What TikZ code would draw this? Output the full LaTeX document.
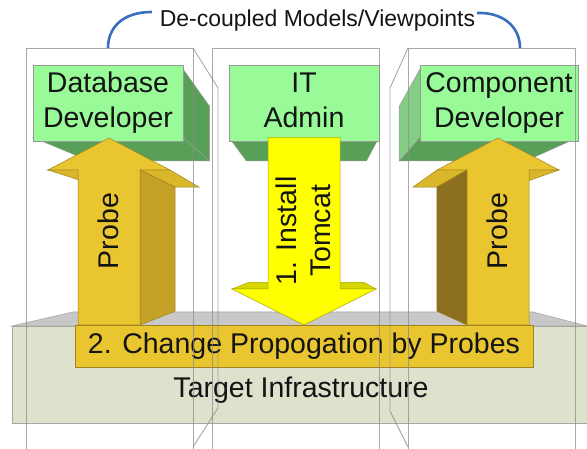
\documentclass[tikz,border=0pt]{standalone}
\usepackage{fontspec}
\setmainfont{Liberation Sans}
\definecolor{grnF}{RGB}{152,251,152}
\definecolor{grnD}{RGB}{88,160,88}
\definecolor{grnS}{RGB}{112,196,112}
\definecolor{gld}{RGB}{233,197,48}
\definecolor{gldU}{RGB}{218,182,42}
\definecolor{gldD}{RGB}{196,162,40}
\definecolor{gldR}{RGB}{140,112,32}
\definecolor{gldE}{RGB}{160,130,30}
\definecolor{ylw}{RGB}{255,255,0}
\definecolor{ylwD}{RGB}{214,214,0}
\definecolor{ylwE}{RGB}{170,170,0}
\definecolor{plat}{RGB}{221,226,205}
\definecolor{platT}{RGB}{200,200,200}
\definecolor{bluelk}{RGB}{58,110,190}
\definecolor{txtc}{RGB}{20,20,20}
\begin{document}
\begin{tikzpicture}[x=1pt,y=-1pt,
  every node/.style={outer sep=0pt, text=txtc},
  bigtxt/.style={font=\fontsize{28.5}{35}\selectfont, align=center},
  gfront/.style={fill=grnF, draw=black!40, line width=0.5pt, bigtxt},
  gdark/.style={fill=grnD, draw=black!40, line width=0.5pt},
  gside/.style={fill=grnS, draw=black!40, line width=0.5pt},
  goldfront/.style={fill=gld, draw=gldE, line width=0.5pt},
  goldunder/.style={fill=gldU, draw=gldE, line width=0.5pt},
  goldside/.style={fill=gldD, draw=gldE, line width=0.5pt},
  goldsideR/.style={fill=gldR, draw=gldE, line width=0.5pt},
  ylwfront/.style={fill=ylw, draw=ylwE, line width=0.5pt},
  ylwtop/.style={fill=ylwD, draw=ylwE, line width=0.5pt},
  platfront/.style={fill=plat, draw=black!35, line width=0.6pt},
  plattop/.style={fill=platT, draw=black!35, line width=0.6pt},
  barbox/.style={fill=gld, draw=gldE, line width=0.5pt, bigtxt},
  panel/.style={draw=black!45, line width=0.9pt, opacity=0.75},
  bluelink/.style={draw=bluelk, line width=2.6pt}
]
\useasboundingbox (0,0) rectangle (587,449);
\fill[white] (0,0) rectangle (587,449);

% platform
\draw[plattop] (12,326) -- (73,312) -- (533,312) -- (587,326) -- cycle;
\node[platfront, minimum width=575pt, minimum height=97pt] (plat) at (299.5,374.5) {};
\node[bigtxt] (platlabel) at (301,391) {\strut Target Infrastructure};

% green boxes
\draw[gdark] (183,69) -- (209.6,106.4) -- (209.6,161) -- (183,137.5) -- cycle;
\draw[gdark] (33,137.5) -- (183,137.5) -- (209.6,161) -- (89.6,161) -- cycle;
\node[gfront, minimum width=150pt, minimum height=68.5pt] (dbdev) at (108,103.25) {\strut Database\\\strut Developer};

\draw[gdark] (229,137.5) -- (379,137.5) -- (366.4,161) -- (246.4,161) -- cycle;
\node[gfront, minimum width=150pt, minimum height=68.5pt] (itadmin) at (304,103.25) {\strut IT\\\strut Admin};

\draw[gdark] (420,137.5) -- (578,137.5) -- (525.6,161) -- (399.2,161) -- cycle;
\draw[gside, fill opacity=0.85] (420,69) -- (399.2,106.4) -- (399.2,161) -- (420,137.5) -- cycle;
\node[gfront, minimum width=158pt, minimum height=68.5pt] (compdev) at (499,103.25) {\strut Component\\\strut Developer};

% left probe arrow
\draw[goldunder] (48,170) -- (78,170) -- (125.6,187.2) -- (101.6,187.2) -- cycle;
\draw[goldunder] (140,170) -- (170,170) -- (199.2,187.2) -- (175.2,187.2) -- cycle;
\draw[goldside] (140,170) -- (175.2,187.2) -- (175.2,311.2) -- (140,325) -- cycle;
\draw[goldfront] (109,138) -- (170,170) -- (140,170) -- (140,325) -- (78,325) -- (78,170) -- (48,170) -- cycle;
\node[bigtxt, rotate=90] (probeL) at (108,231) {Probe};

% right probe arrow
\draw[goldunder] (529,170) -- (559,170) -- (510.4,187.2) -- (486.4,187.2) -- cycle;
\draw[goldunder] (437,170) -- (467,170) -- (436.8,187.2) -- (412.8,187.2) -- cycle;
\draw[goldsideR] (467,170) -- (436.8,187.2) -- (436.8,311.2) -- (467,325) -- cycle;
\draw[goldfront] (498,138) -- (559,170) -- (529,170) -- (529,325) -- (467,325) -- (467,170) -- (437,170) -- cycle;
\node[bigtxt, rotate=90] (probeR) at (497,231) {Probe};

% middle install arrow
\draw[ylwtop] (232,289) -- (268,289) -- (277.6,282.4) -- (248.8,282.4) -- cycle;
\draw[ylwtop] (340,289) -- (376,289) -- (364,282.4) -- (335.2,282.4) -- cycle;
\draw[ylwfront] (268,137.5) -- (340,137.5) -- (340,289) -- (376,289) -- (304,325) -- (232,289) -- (268,289) -- cycle;
\node[bigtxt, rotate=90, font=\fontsize{28.5}{34}\selectfont] (install) at (307,231) {\strut 1. Install\\\strut Tomcat};

% change propagation bar
\node[barbox, minimum width=458pt, minimum height=41pt] (bar) at (304,346.5) {\strut 2. Change Propogation by Probes};

% transparent panels
\draw[panel] (26,449) -- (26,48) -- (193,48) -- (193,449);
\draw[panel] (193,48) -- (218,88) -- (218,408) -- (193,447);
\draw[panel] (212,449) -- (212,48) -- (379,48) -- (379,449);
\draw[panel] (408,449) -- (408,48) -- (575,48) -- (575,449);
\draw[panel] (408,48) -- (390,88) -- (390,411) -- (408,447);

% title and links
\node[anchor=base, font=\fontsize{23}{28}\selectfont] (title) at (317.5,27) {De-coupled Models/Viewpoints};
\coordinate (lpanel) at (108,48);
\coordinate (rpanel) at (520,48);
\coordinate (tl) at (152,12);
\coordinate (tr) at (477,13);
\draw[bluelink] (lpanel) .. controls (108,28) and (122,12) .. (tl);
\draw[bluelink] (tr) .. controls (502,12) and (520,26) .. (rpanel);
\end{tikzpicture}
\end{document}
